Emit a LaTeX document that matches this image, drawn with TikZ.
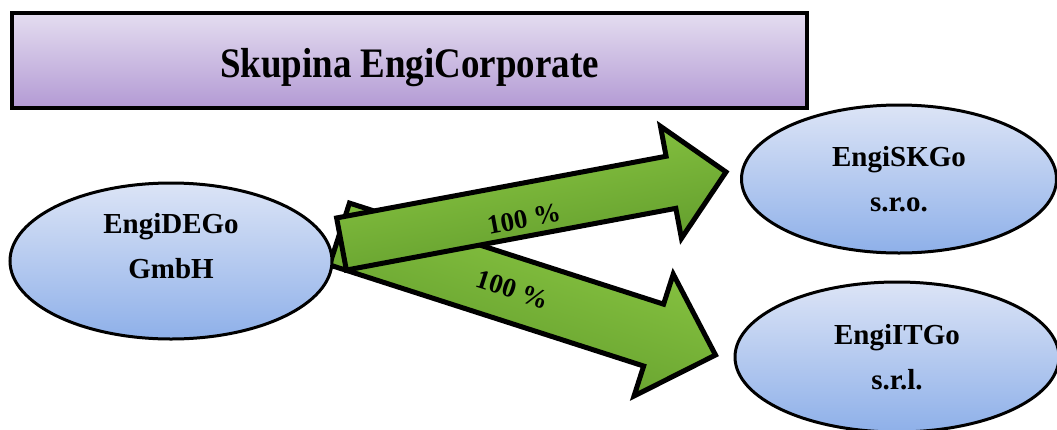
\documentclass[tikz,border=0pt]{standalone}
\usepackage{fontspec}
\setmainfont{Liberation Serif}
\newfontfamily\narrowserif{Liberation Serif}[FakeStretch=0.88]
\usetikzlibrary{shapes.geometric,calc,backgrounds}
\definecolor{lilactop}{HTML}{E4DDF0}
\definecolor{lilacbottom}{HTML}{B39AD4}
\definecolor{bluetop}{HTML}{DCE4F6}
\definecolor{bluebottom}{HTML}{8EB0E9}
\definecolor{greentop}{HTML}{8FCB45}
\definecolor{greenbottom}{HTML}{5D982A}
\newcommand{\fatarrow}[6]{%
  \draw[sharearrow, shading angle=#6]
    ($(#1)!#3!90:(#2)$) -- ($($(#2)!#5!(#1)$)!#3!90:(#2)$)
    -- ($($(#2)!#5!(#1)$)!#4!90:(#2)$) -- (#2)
    -- ($($(#2)!#5!(#1)$)!#4!-90:(#2)$) -- ($($(#2)!#5!(#1)$)!#3!-90:(#2)$)
    -- ($(#1)!#3!-90:(#2)$) -- cycle;
}
\begin{document}
\begin{tikzpicture}
        [
           x=1pt, y=-1pt,
           every node/.style={font=\bfseries},
           groupbox/.style={rectangle, draw, line width=3.4pt, top color=lilactop, bottom color=lilacbottom,
              minimum width=795pt, minimum height=95pt, inner sep=0pt, text height=33pt, text depth=0pt,
              font=\narrowserif\bfseries\fontsize{42}{42}\selectfont},
           firm/.style={ellipse, draw, line width=3pt, top color=bluetop, bottom color=bluebottom,
              inner sep=0pt, align=center, font=\bfseries\fontsize{29}{45}\selectfont},
           sharearrow/.style={line width=5pt, top color=greentop, bottom color=greenbottom},
           pct/.style={sloped, font=\bfseries\fontsize{27}{27}\selectfont}
        ]
        \useasboundingbox (0,0) rectangle (1057,429);
        \node[groupbox] (group) at (409.5,60.5) {Skupina EngiCorporate};
        \node[firm, minimum width=322pt, minimum height=156pt] (de) at (171,261) {EngiDEGo\\GmbH\\[-14pt]};
        \node[firm, minimum width=315pt, minimum height=148pt] (sk) at (899,179) {EngiSKGo\\s.r.o.};
        \node[firm, minimum width=324pt, minimum height=150pt] (it) at (897,357) {EngiITGo\\s.r.l.};
        \coordinate (upTail) at ($(de.east)+(8,-17)$);
        \coordinate (upTip) at ($(sk.west)+(-14,-7)$);
        \coordinate (loTail) at ($(de.east)+(6,-27)$);
        \coordinate (loTip) at ($(it.west)+(-18,-2)$);
        \begin{scope}[on background layer]
          \fatarrow{loTail}{loTip}{32.5pt}{64pt}{65pt}{-18}
          \fatarrow{upTail}{upTip}{26.5pt}{57pt}{56pt}{10.6}
        \end{scope}
        \path (upTail) -- node[pct, pos=.47, yshift=-9pt] (upLabel) {100 \%} (upTip);
        \path (loTail) -- node[pct, pos=.46] (loLabel) {100 \%} (loTip);
    \end{tikzpicture}
\end{document}
